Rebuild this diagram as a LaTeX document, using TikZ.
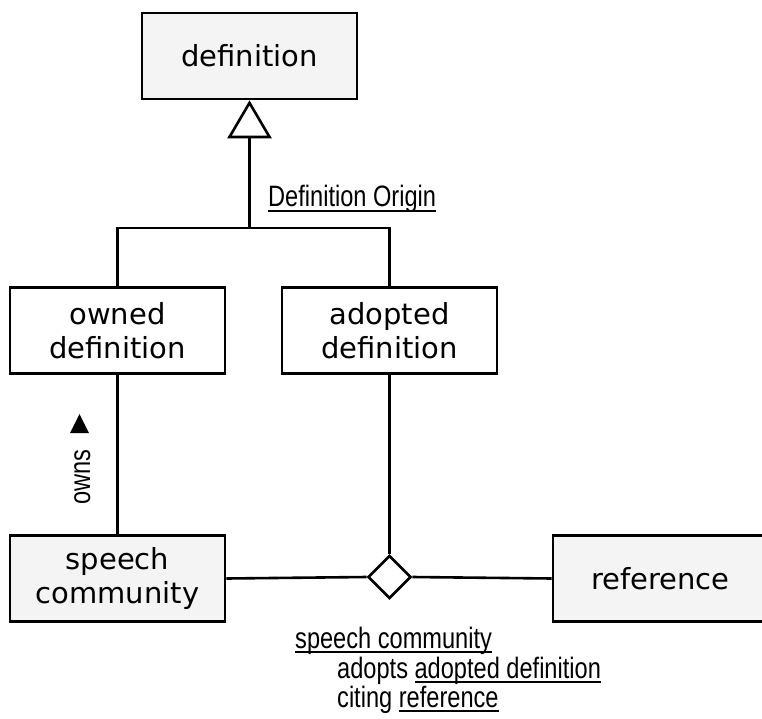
\documentclass[tikz,border=0pt]{standalone}
\usepackage{fontspec}
\usetikzlibrary{shapes.geometric,arrows.meta}
\newfontfamily\boxfont{DejaVu Sans}
\newfontfamily\lblfont[FakeStretch=0.8]{Liberation Sans}
\newcommand\myul[1]{\setbox0\hbox{#1}\rlap{\rule[-4.8pt]{\wd0}{2pt}}\box0}
\definecolor{boxgray}{HTML}{F4F4F4}
\tikzset{
  cls/.style={draw=black, line width=2.6pt, minimum width=215pt, minimum height=86pt, inner sep=0pt, align=center, font=\boxfont\fontsize{29}{34}\selectfont},
  grayfill/.style={fill=boxgray},
  conn/.style={line width=2.6pt},
  lbl/.style={inner sep=0pt, font=\lblfont\fontsize{29.5}{30}\selectfont}
}
\begin{document}
\begin{tikzpicture}[x=1pt,y=-1pt]
\useasboundingbox (0,0) rectangle (762,719);
\node[cls,grayfill] (def) at (249.5,56) {definition};
\node[cls] (owned) at (117.5,330.5) {owned\\definition};
\node[cls] (adopted) at (389.5,330.5) {adopted\\definition};
\node[cls,grayfill] (sc) at (117.5,578.5) {speech\\community};
\node[cls,grayfill] (ref) at (660.5,578.5) {reference};
\node[diamond, draw=black, line width=2.6pt, fill=white, minimum width=43pt, minimum height=43pt, inner sep=0pt] (dia) at (389.5,577) {};
\coordinate (j) at (249.5,228);
\coordinate (jl) at (117.5,228);
\coordinate (jr) at (389.5,228);
\draw[conn, -{Triangle[open, width=44pt, length=38pt, line width=2.6pt]}] (j) -- (def.south);
\draw[conn] (owned.north) -- (jl) -- (jr) -- (adopted.north);
\draw[conn] (owned.south) -- (sc.north);
\draw[conn] (adopted.south) -- (dia.north);
\draw[conn] (sc.east) -- (dia.west);
\draw[conn] (dia.east) -- (ref.west);
\node[lbl, anchor=base west] (origin) at (268,207) {\myul{Definition Origin}};
\node[lbl, rotate=90, anchor=base] (owns) at (90,477) {owns};
\fill (70,433) -- (89,433) -- (79.5,414) -- cycle;
\node[lbl, anchor=base west] (t1) at (295,648) {\myul{speech community}};
\node[lbl, anchor=base west] (t2) at (337,678) {adopts \myul{adopted definition}};
\node[lbl, anchor=base west] (t3) at (337,707) {citing \myul{reference}};
\end{tikzpicture}
\end{document}
